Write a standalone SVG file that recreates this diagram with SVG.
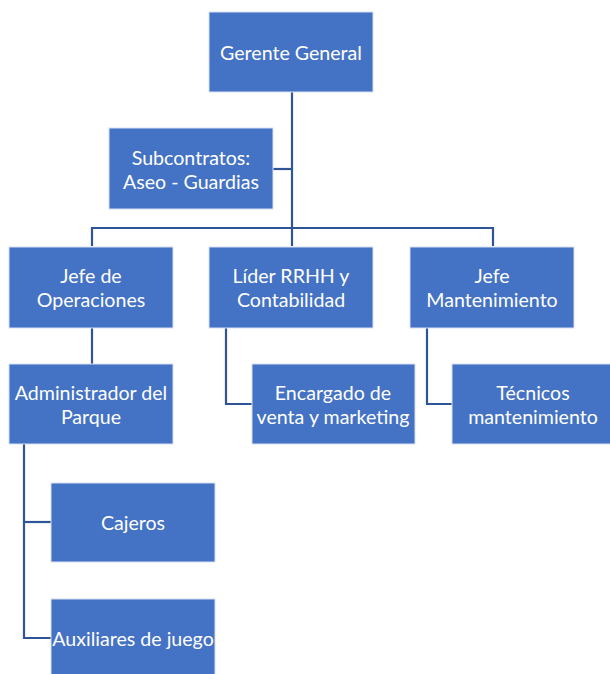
<svg xmlns="http://www.w3.org/2000/svg" width="610" height="674" viewBox="0 0 610 674">
<style>
.box{fill:#4472C4;stroke:#D6E0F2;stroke-width:1}
.t{fill:#FFFFFF;font-family:Lato,"Liberation Sans",sans-serif;font-size:19.6px;text-anchor:middle;dominant-baseline:central}
.c{fill:none;stroke:#2F5597;stroke-width:2.2}
</style>
<rect width="610" height="674" fill="#FFFFFF"/>
<g id="connectors">
<path class="c" d="M292 92 V228"/>
<path class="c" d="M273 169 H292"/>
<path class="c" d="M92 246 V228 H493 V246"/>
<path class="c" d="M292 228 V246"/>
<path class="c" d="M92 328 V364"/>
<path class="c" d="M226 328 V404 H252"/>
<path class="c" d="M427 328 V404 H452"/>
<path class="c" d="M24 444 V638 H51"/>
<path class="c" d="M24 522 H51"/>
</g>
<g id="gerente"><rect class="box" x="209" y="12" width="164" height="80"/><text class="t" x="291" y="52">Gerente General</text></g>
<g id="subcontratos"><rect class="box" x="109" y="128" width="164" height="81"/><text class="t" x="191" y="157">Subcontratos:</text><text class="t" x="191" y="181">Aseo - Guardias</text></g>
<g id="jefe-operaciones"><rect class="box" x="9" y="247" width="164" height="81"/><text class="t" x="91" y="275">Jefe de</text><text class="t" x="91" y="299">Operaciones</text></g>
<g id="lider-rrhh"><rect class="box" x="209" y="247" width="164" height="81"/><text class="t" x="291" y="275">Líder RRHH y</text><text class="t" x="291" y="299">Contabilidad</text></g>
<g id="jefe-mantenimiento"><rect class="box" x="410" y="247" width="164" height="81"/><text class="t" x="492" y="275">Jefe</text><text class="t" x="492" y="299">Mantenimiento</text></g>
<g id="administrador"><rect class="box" x="9" y="364" width="164" height="80"/><text class="t" x="91" y="392">Administrador del</text><text class="t" x="91" y="416">Parque</text></g>
<g id="encargado"><rect class="box" x="252" y="364" width="163" height="80"/><text class="t" x="333" y="392">Encargado de</text><text class="t" x="333" y="416">venta y marketing</text></g>
<g id="tecnicos"><rect class="box" x="452" y="364" width="164" height="80"/><text class="t" x="533" y="392">Técnicos</text><text class="t" x="533" y="416">mantenimiento</text></g>
<g id="cajeros"><rect class="box" x="51" y="483" width="164" height="79"/><text class="t" x="133" y="522">Cajeros</text></g>
<g id="auxiliares"><rect class="box" x="51" y="599" width="164" height="80"/><text class="t" x="133" y="638">Auxiliares de juego</text></g>
</svg>
